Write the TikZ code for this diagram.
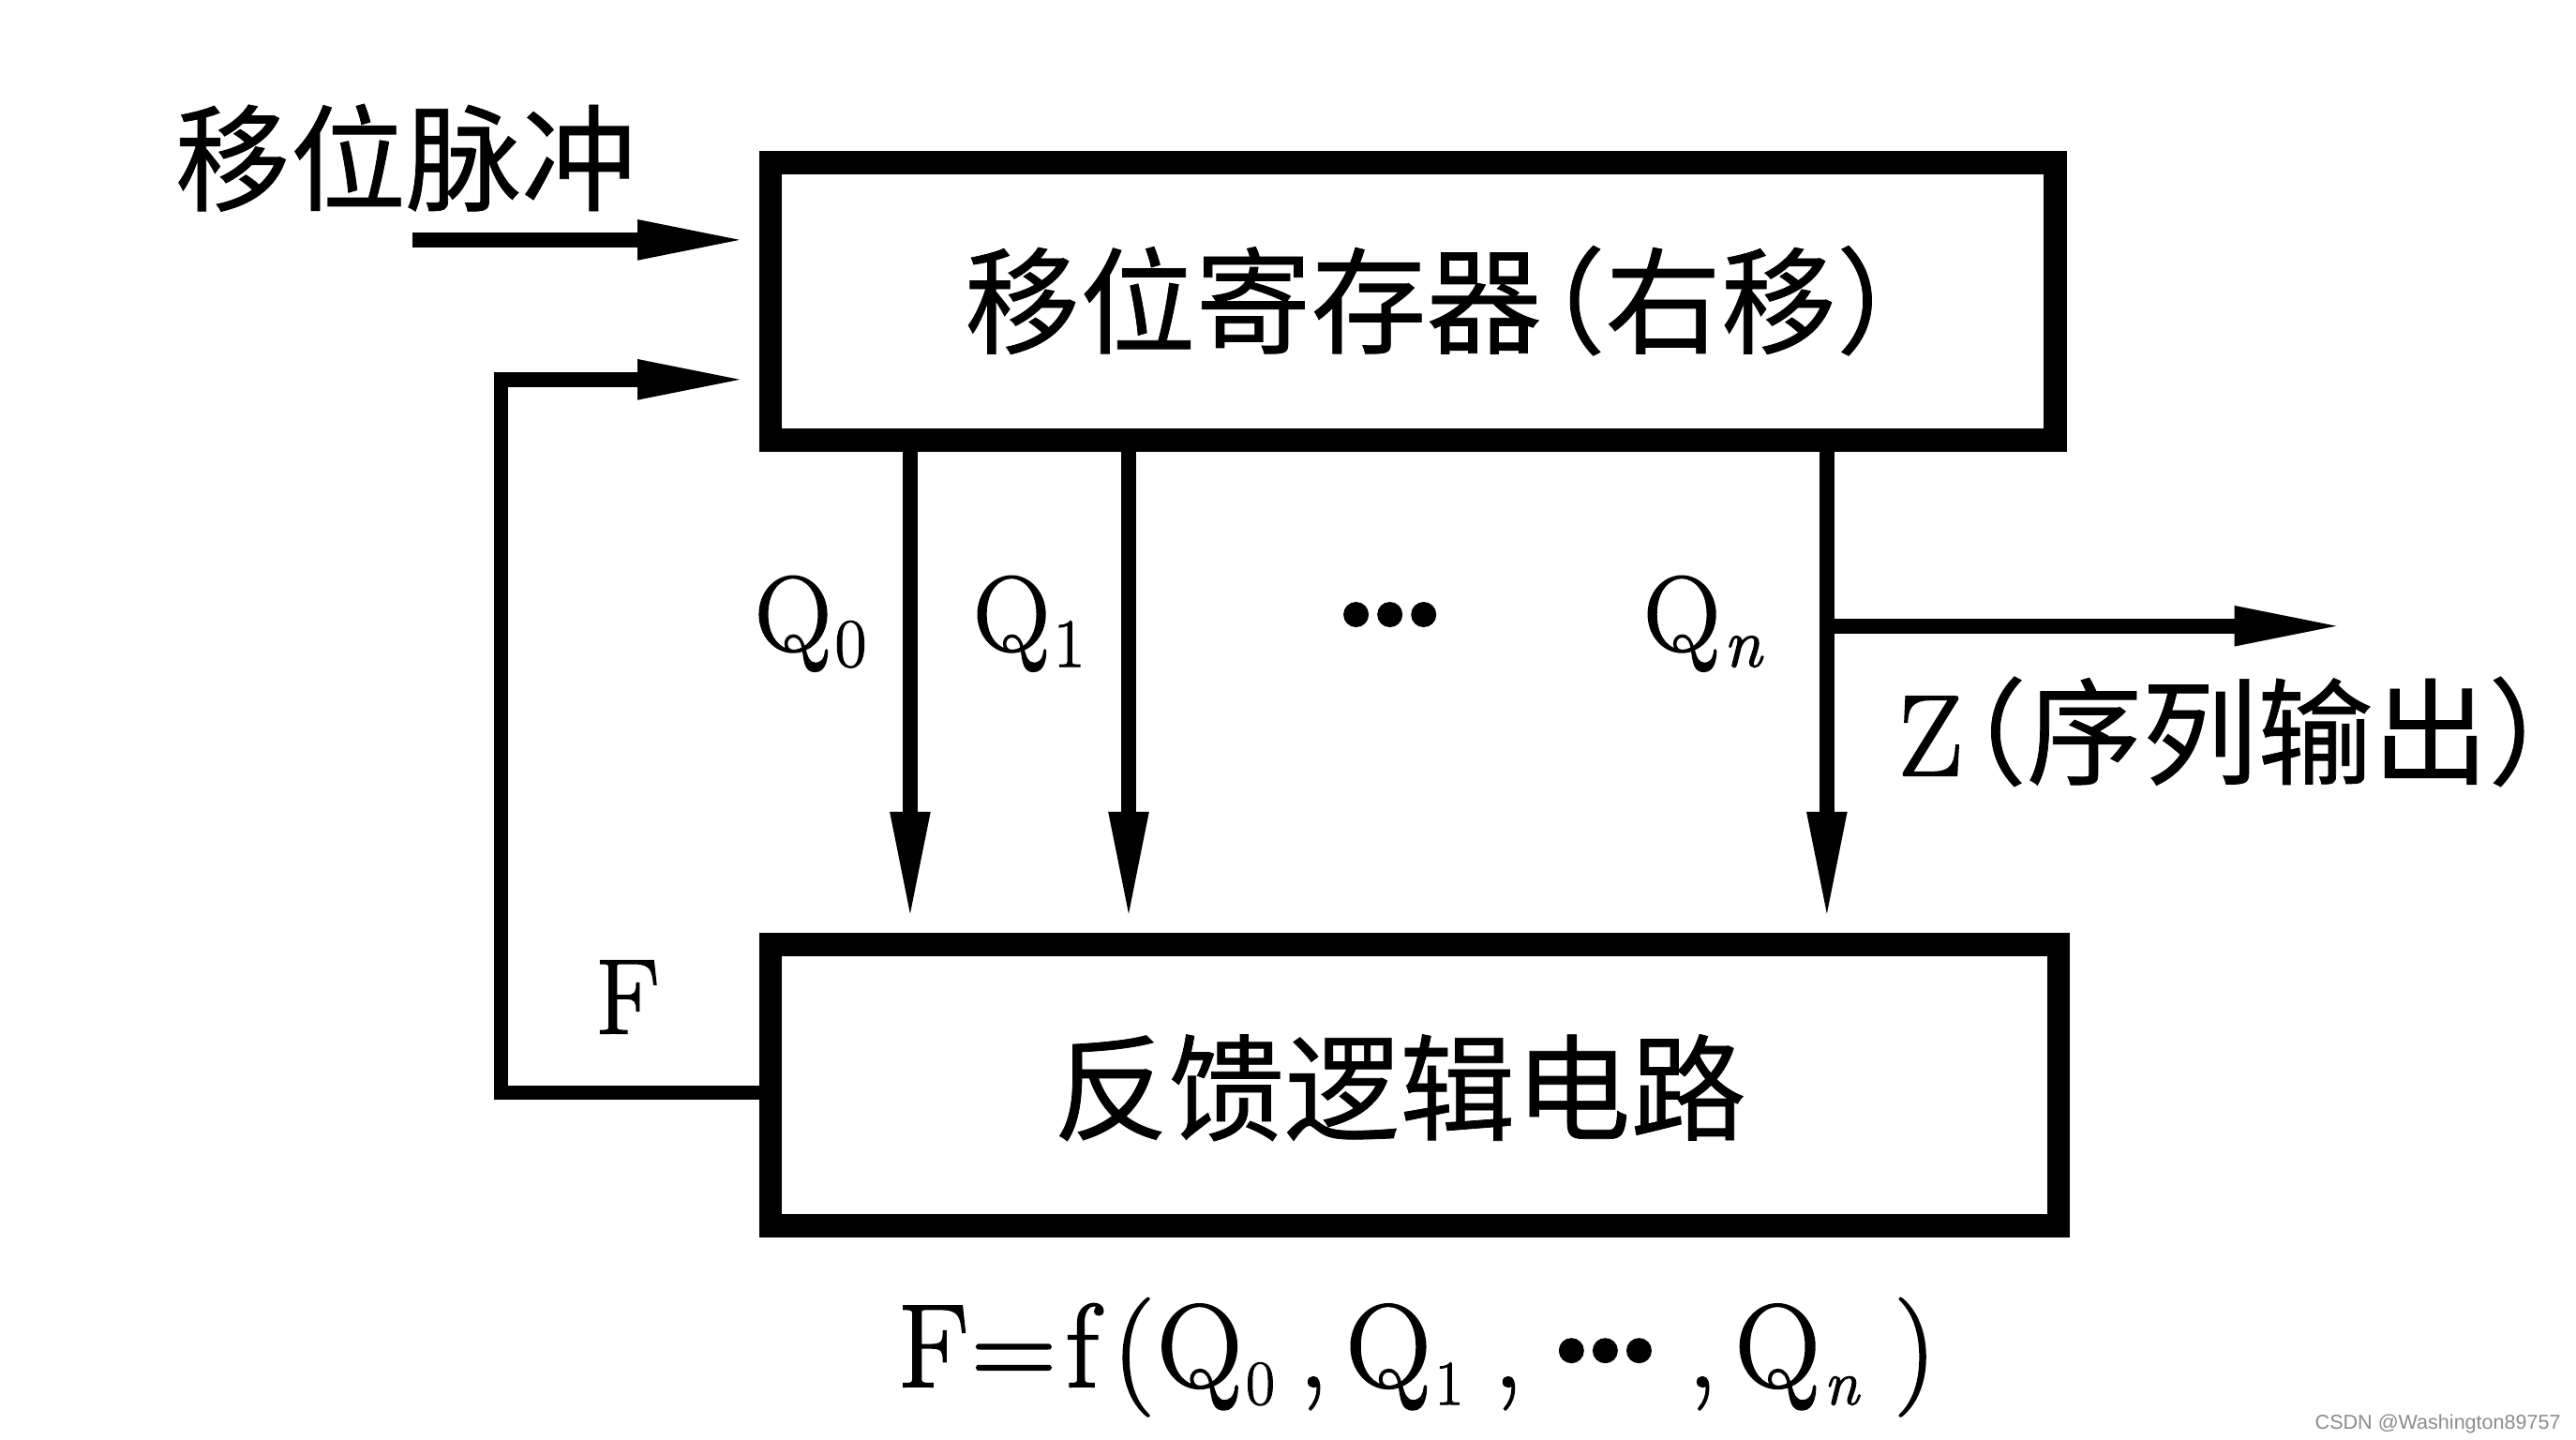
\documentclass[tikz,border=0pt]{standalone}
\usepackage{fontspec}
\setmainfont{Latin Modern Roman}[FakeBold=1.5]
\newfontfamily\cjk{Noto Sans CJK SC}[FakeBold=0.6]
\newfontfamily\wmfont{Liberation Sans}
\usetikzlibrary{arrows.meta}
\newcommand\sbs[2]{\kern0.03em\raisebox{-0.15em}{\fontsize{#1}{#1}\selectfont #2}}
\newcommand\bigdots{{\fontsize{55}{55}\selectfont\bfseries\raisebox{0.3cm}{.\kern-0.1em.\kern-0.1em.}}}
\begin{document}
\begin{tikzpicture}[x=0.02cm,y=-0.02cm,
  boxnode/.style={draw, line width=0.28cm, inner sep=0pt},
  conn/.style={line width=0.18cm, line join=miter},
  arr/.style={conn, -{Triangle[length=1.34cm,width=0.44cm]}},
  cjktext/.style={font=\cjk\fontsize{40}{40}\selectfont, inner sep=0pt},
  lattext/.style={font=\fontsize{37}{37}\selectfont, inner sep=0pt},
]
\useasboundingbox[fill=white] (0,0) rectangle (1568,876);

% boxes
\node[boxnode, minimum width=15.64cm, minimum height=3.38cm] (reg) at (860,183.5) {};
\node[boxnode, minimum width=15.68cm, minimum height=3.42cm] (fb) at (861,660.5) {};

% texts
\node[cjktext] (pulse) at (247,96) {移位脉冲};
\node[cjktext] (regtxt) at (870,183) {移位寄存器\kern-.45em（右移）\kern-.5em};
\node[cjktext] (fbtxt) at (852,662) {反馈逻辑电路};

% shift pulse input
\coordinate (pin) at (251,146);
\draw[arr, shorten >=0.14cm] (pin) -- (pin -| reg.west);

% feedback loop
\coordinate (c1) at (305,665);
\coordinate (c2) at (305,231);
\draw[arr, shorten >=0.14cm] (c1 -| fb.west) -- (c1) -- (c2) -- (c2 -| reg.west);
\node[lattext, anchor=base west] (flab) at (362,629) {F};

% Q outputs
\coordinate (q0) at (554,0);
\coordinate (q1) at (687,0);
\coordinate (qn) at (1112,0);
\foreach \q in {q0,q1,qn}{
  \draw[arr, shorten >=0.14cm] (\q |- reg.south) -- (\q |- fb.north);
}
\node[lattext, anchor=base west] (lq0) at (459,396) {Q\sbs{24}{0}};
\node[lattext, anchor=base west] (lq1) at (592,396) {Q\sbs{24}{1}};
\node[lattext, anchor=base west] (lqn) at (1000,396) {Q\sbs{24}{\itshape n}};
\node[lattext, anchor=base west] (ldots) at (810,396) {\bigdots};

% Z output
\coordinate (zend) at (1427,381);
\draw[arr] (zend -| qn) -- (zend);
\node[lattext, font=\fontsize{40}{40}\selectfont, anchor=base west] (zlab) at (1155,472) {Z{\cjk\kern-.45em（序列输出）\kern-.55em}};

% formula
\node[inner sep=0pt, anchor=base west, font=\fontsize{41}{41}\selectfont] (formula) at (546,844)
  {F\kern0.02em=\kern0.08em f\kern0.12em(\kern0.02em Q\sbs{22}{0}\kern0.2em,\kern0.15em Q\sbs{22}{1}\kern0.25em,\kern0.2em\bigdots\kern0.2em,\kern0.15em Q\sbs{22}{\itshape n}\kern0.3em)};

% watermark
\node[inner sep=0pt, anchor=base east, text=black!45, font=\wmfont\fontsize{7}{7}\selectfont] (wm) at (1559,870) {CSDN @Washington89757};
\end{tikzpicture}
\end{document}
